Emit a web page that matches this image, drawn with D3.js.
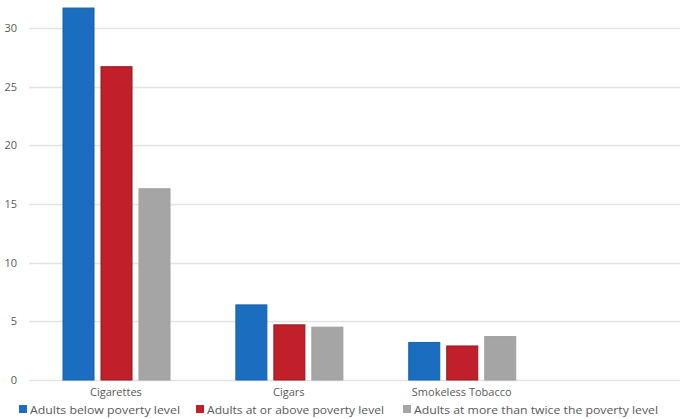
<!DOCTYPE html>
<html>
<head>
<meta charset="utf-8">
<script src="https://cdn.jsdelivr.net/npm/d3@7"></script>
<style>
  html, body { margin: 0; padding: 0; background: #fff; }
  svg { display: block; }
  text { font-family: "Open Sans", "DejaVu Sans", sans-serif; fill: #595959; }
</style>
</head>
<body>
<svg id="chart" width="680" height="419"></svg>
<script>
const categories = ["Cigarettes", "Cigars", "Smokeless Tobacco", ""];
const seriesNames = ["Adults below poverty level", "Adults at or above poverty level", "Adults at more than twice the poverty  level"];
const belowPoverty = [31.7, 6.4, 3.2, null];
const atOrAbove = [26.7, 4.7, 2.9, null];
const twiceAbove = [16.3, 4.5, 3.7, null];
const yTicks = [0, 5, 10, 15, 20, 25, 30];
const colors = ["#1b6dbf", "#c1202b", "#a5a5a5"];
const strokes = ["#1560a8", "#8e1a1f", "#a0a0a0"];

const series = [belowPoverty, atOrAbove, twiceAbove];
const svg = d3.select("#chart");

const y = d3.scaleLinear().domain([0, 30]).range([380, 28]);
const x = d3.scaleBand().domain(categories).range([29.5, 721]).paddingInner(0).paddingOuter(0);
const x1 = d3.scaleBand().domain(d3.range(3)).range([33.5, 140.5]).paddingInner(0.184).paddingOuter(0);

// gridlines
svg.append("g").selectAll("line").data(yTicks).join("line")
  .attr("x1", 29).attr("x2", 680)
  .attr("y1", d => Math.round(y(d)) + 0.5).attr("y2", d => Math.round(y(d)) + 0.5)
  .attr("stroke", "#e3e3e3").attr("stroke-width", 1.5);

// y axis labels
const yAxis = d3.axisLeft(y).tickValues(yTicks).tickSize(0).tickPadding(0);
const ga = svg.append("g").attr("transform", "translate(17,0)").call(yAxis);
ga.select(".domain").remove();
ga.selectAll("text").attr("font-size", 11).style("font-family", '"Open Sans", sans-serif').attr("fill", "#707070");

// bars
categories.forEach((c, ci) => {
  series.forEach((s, si) => {
    const v = s[ci];
    if (v == null) return;
    svg.append("rect")
      .attr("x", x(c) + x1(si))
      .attr("y", y(v))
      .attr("width", x1.bandwidth())
      .attr("height", y(0) - y(v))
      .attr("fill", colors[si])
      .attr("stroke", strokes[si])
      .attr("stroke-width", 1);
  });
});

// category labels
const xAxis = d3.axisBottom(x).tickSize(0).tickPadding(0);
const gx = svg.append("g").attr("transform", "translate(0,388)").call(xAxis);
gx.select(".domain").remove();
gx.selectAll("text").attr("font-size", 11).attr("fill", "#606060").attr("dy", "0.71em");

// legend
const legendX = [19, 196, 403];
const legendW = [150, 177, 244];
const lg = svg.append("g");
seriesNames.forEach((n, i) => {
  lg.append("rect").attr("x", legendX[i]).attr("y", 405).attr("width", 8).attr("height", 8).attr("fill", colors[i]);
  lg.append("text").attr("x", legendX[i] + 11).attr("y", 413.5)
    .attr("font-size", 11).attr("fill", "#606060")
    .attr("textLength", legendW[i]).attr("lengthAdjust", "spacingAndGlyphs")
    .text(n);
});
</script>
</body>
</html>
